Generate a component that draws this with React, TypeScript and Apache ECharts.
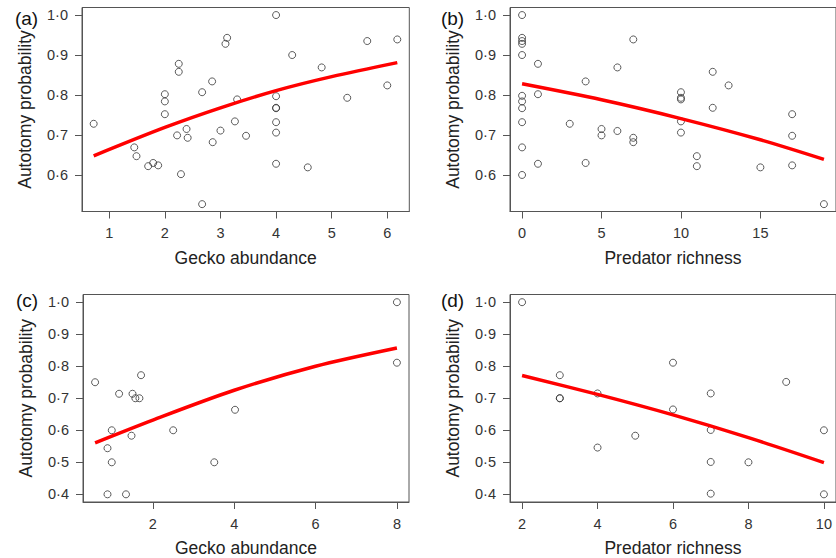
import React, { useEffect, useRef } from "react";
import * as echarts from "echarts";

// Panel (a): gecko abundance vs autotomy probability
const aX = [0.72, 1.45, 1.49, 1.70, 1.79, 1.88, 2.0, 2.0, 2.0, 2.22, 2.25, 2.25, 2.29, 2.39, 2.41, 2.67, 2.67, 2.85, 2.86, 3.0, 3.09, 3.12, 3.26, 3.30, 3.46, 4.0, 4.0, 4.0, 4.0, 4.0, 4.0, 4.0, 4.29, 4.57, 4.82, 5.28, 5.64, 6.0, 6.18];
const aY = [0.728, 0.669, 0.647, 0.622, 0.630, 0.624, 0.802, 0.784, 0.752, 0.699, 0.878, 0.858, 0.602, 0.715, 0.693, 0.807, 0.527, 0.834, 0.682, 0.711, 0.928, 0.943, 0.734, 0.789, 0.698, 1.0, 0.797, 0.768, 0.767, 0.732, 0.706, 0.628, 0.900, 0.619, 0.869, 0.793, 0.935, 0.824, 0.939];
const aFitX = [0.72, 2, 3, 4, 5, 6.18];
const aFitY = [0.648, 0.719, 0.768, 0.811, 0.846, 0.881];

// Panel (b): predator richness vs autotomy probability
const bX = [0, 0, 0, 0, 0, 0, 0, 0, 0, 0, 0, 1, 1, 1, 3, 4, 4, 5, 5, 6, 6, 7, 7, 7, 10, 10, 10, 10, 10, 11, 11, 12, 12, 13, 15, 17, 17, 17, 19];
const bY = [1.0, 0.943, 0.935, 0.928, 0.900, 0.798, 0.784, 0.767, 0.732, 0.669, 0.600, 0.878, 0.802, 0.628, 0.728, 0.834, 0.630, 0.715, 0.699, 0.869, 0.710, 0.939, 0.693, 0.682, 0.807, 0.793, 0.789, 0.734, 0.706, 0.647, 0.622, 0.858, 0.768, 0.824, 0.619, 0.752, 0.698, 0.624, 0.527];
const bFitX = [0, 5, 10, 15, 19];
const bFitY = [0.828, 0.788, 0.741, 0.688, 0.639];

// Panel (c): gecko abundance vs autotomy probability
const cX = [0.58, 0.885, 0.885, 0.99, 0.99, 1.17, 1.34, 1.475, 1.50, 1.57, 1.67, 1.71, 2.5, 3.51, 4.02, 8.0, 8.0];
const cY = [0.750, 0.544, 0.400, 0.600, 0.500, 0.714, 0.400, 0.583, 0.714, 0.700, 0.700, 0.772, 0.600, 0.500, 0.664, 1.0, 0.811];
const cFitX = [0.58, 2, 4, 6, 8];
const cFitY = [0.561, 0.632, 0.725, 0.800, 0.857];

// Panel (d): predator richness vs autotomy probability
const dX = [2, 3, 3, 3, 4, 4, 5, 6, 6, 7, 7, 7, 7, 8, 9, 10, 10];
const dY = [1.0, 0.772, 0.700, 0.700, 0.715, 0.546, 0.583, 0.811, 0.665, 0.715, 0.601, 0.501, 0.402, 0.500, 0.751, 0.600, 0.400];
const dFitX = [2, 4, 6, 8, 10];
const dFitY = [0.771, 0.712, 0.648, 0.577, 0.499];

// Tick values
const aXTicks = [1, 2, 3, 4, 5, 6];
const bXTicks = [0, 5, 10, 15];
const cXTicks = [2, 4, 6, 8];
const dXTicks = [2, 4, 6, 8, 10];
const abYTicks = [0.6, 0.7, 0.8, 0.9, 1.0];
const cdYTicks = [0.4, 0.5, 0.6, 0.7, 0.8, 0.9, 1.0];

const panelLabels = ["(a)", "(b)", "(c)", "(d)"];
const xTitles = ["Gecko abundance", "Predator richness", "Gecko abundance", "Predator richness"];
const yTitle = "Autotomy probability";

const FONT = "'Liberation Sans', Arial, Helvetica, sans-serif";
const BOX = "#555";
const TXT = "#333";

function pairs(xs: number[], ys: number[]) {
  return xs.map((x, i) => [x, ys[i]]);
}

export default function App() {
  const ref = useRef<HTMLDivElement>(null);
  useEffect(() => {
    document.body.style.margin = "0";
    if (!ref.current) return;
    const chart = echarts.init(ref.current, null, { renderer: "svg" });

    const grids = [
      { left: 82, top: 7.5, width: 327.3, height: 204 },
      { left: 510, top: 7.5, width: 327, height: 204 },
      { left: 83, top: 294.5, width: 326, height: 207.5 },
      { left: 510, top: 294.5, width: 328.5, height: 207.5 },
    ];
    const xRanges = [
      [0.51, 6.396],
      [-0.76, 19.76],
      [0.283, 8.297],
      [1.68, 10.32],
    ];
    const yRanges = [
      [0.5086, 1.0189],
      [0.5086, 1.0189],
      [0.376, 1.024],
      [0.376, 1.024],
    ];
    const xTicks = [aXTicks, bXTicks, cXTicks, dXTicks];
    const yTicks = [abYTicks, abYTicks, cdYTicks, cdYTicks];
    const pts = [pairs(aX, aY), pairs(bX, bY), pairs(cX, cY), pairs(dX, dY)];
    const fits = [pairs(aFitX, aFitY), pairs(bFitX, bFitY), pairs(cFitX, cFitY), pairs(dFitX, dFitY)];
    const labelPos = [
      [26.5, 18],
      [452.5, 18],
      [27, 300.5],
      [452.5, 300.5],
    ];

    const option: any = {
      animation: false,
      backgroundColor: "#fff",
      grid: grids.map((g) => ({
        ...g,
        show: true,
        borderColor: BOX,
        borderWidth: 1,
        backgroundColor: "transparent",
        containLabel: false,
      })),
      xAxis: grids.map((_, i) => ({
        type: "value",
        gridIndex: i,
        min: xRanges[i][0],
        max: xRanges[i][1],
        splitLine: { show: false },
        axisLine: { show: true, onZero: false, lineStyle: { color: BOX, width: 1 } },
        axisTick: { show: true, inside: false, length: 7, customValues: xTicks[i], lineStyle: { color: BOX } },
        axisLabel: {
          customValues: xTicks[i],
          margin: 14,
          color: TXT,
          fontSize: 14.5,
          fontFamily: FONT,
          formatter: (v: number) => String(v),
        },
        name: xTitles[i],
        nameLocation: "middle",
        nameGap: 37,
        nameTextStyle: { fontSize: 17.5, color: "#222", fontFamily: FONT },
      })),
      yAxis: grids.map((_, i) => ({
        type: "value",
        gridIndex: i,
        min: yRanges[i][0],
        max: yRanges[i][1],
        splitLine: { show: false },
        axisLine: { show: true, onZero: false, lineStyle: { color: BOX, width: 1 } },
        axisTick: { show: true, inside: false, length: 7, customValues: yTicks[i], lineStyle: { color: BOX } },
        axisLabel: {
          customValues: yTicks[i],
          margin: 14,
          color: TXT,
          fontSize: 14.5,
          fontFamily: FONT,
          formatter: (v: number) => v.toFixed(1).replace(".", "\u00b7"),
        },
        name: yTitle,
        nameLocation: "middle",
        nameGap: 48,
        nameTextStyle: { fontSize: 17.5, color: "#222", fontFamily: FONT },
      })),
      series: [
        ...pts.map((d, i) => ({
          type: "scatter",
          xAxisIndex: i,
          yAxisIndex: i,
          data: d,
          symbol: "circle",
          symbolSize: 7,
          itemStyle: { color: "rgba(255,255,255,0)", borderColor: "#333", borderWidth: 1 },
          z: 2,
        })),
        ...fits.map((d, i) => ({
          type: "line",
          xAxisIndex: i,
          yAxisIndex: i,
          data: d,
          smooth: 0.3,
          showSymbol: false,
          symbol: "none",
          lineStyle: { color: "#ff0000", width: 3.5 },
          z: 3,
        })),
      ],
      graphic: panelLabels.map((t, i) => ({
        type: "text",
        x: labelPos[i][0],
        y: labelPos[i][1],
        style: {
          text: t,
          fontSize: 19,
          fontFamily: FONT,
          fill: "#111",
          align: "center",
          verticalAlign: "middle",
        },
      })),
    };
    chart.setOption(option);
    return () => chart.dispose();
  }, []);
  return <div ref={ref} style={{ position: "absolute", left: 0, top: 0, width: 836, height: 558 }} />;
}
